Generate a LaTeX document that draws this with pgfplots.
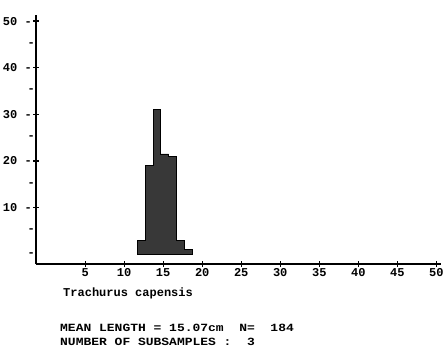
\documentclass[border=0pt]{standalone}
\usepackage{fontspec}
\setmainfont{Liberation Mono}
\usepackage{graphicx}
\usepackage{pgfplots}
\pgfplotsset{compat=1.18}
\begin{document}
\begin{tikzpicture}[x=1pt,y=1pt]
\path[use as bounding box] (0,0) rectangle (448,-349);
\begin{axis}[
  at={(36pt,-264pt)}, anchor=south west,
  scale only axis, width=405pt, height=249pt,
  xmin=-1.3, xmax=50.6, ymin=-2.1, ymax=51.3,
  axis lines=left, axis line style={line width=2pt, -},
  xtick={5,10,...,50},
  ytick={10,20,...,50},
  yticklabels={10 -,20 -,30 -,40 -,50 -},
  extra y ticks={0,5,15,25,35,45},
  extra y tick labels={-,-,-,-,-,-},
  extra y tick style={major tick length=0pt},
  tick align=center, major tick length=6pt,
  tick style={black, line width=1.2pt},
  minor tick num=0,
  ticklabel style={font=\bfseries\fontsize{12}{12}\selectfont},
  yticklabel style={inner sep=1pt},
  xticklabel style={inner sep=1pt},
  /pgf/number format/assume math mode=true,
  clip=false,
]
\addplot[const plot, fill=black!78, draw=black, line width=0.8pt]
  coordinates {(11.7,3) (12.7,19) (13.7,31) (14.7,21.5) (15.7,21) (16.7,3) (17.7,1) (18.7,1)} \closedcycle;
\end{axis}
\node[anchor=west, inner sep=0pt, font=\bfseries\fontsize{12}{12}\selectfont] at (63,-293) {Trachurus capensis};
\node[anchor=west, inner sep=0pt, font=\bfseries\fontsize{11}{11}\selectfont] at (60,-328) {\scalebox{1.18}[1]{MEAN LENGTH = 15.07cm\ \ N=\ \ 184}};
\node[anchor=west, inner sep=0pt, font=\bfseries\fontsize{11}{11}\selectfont] at (60,-342) {\scalebox{1.18}[1]{NUMBER OF SUBSAMPLES :\ \ 3}};
\end{tikzpicture}
\end{document}
